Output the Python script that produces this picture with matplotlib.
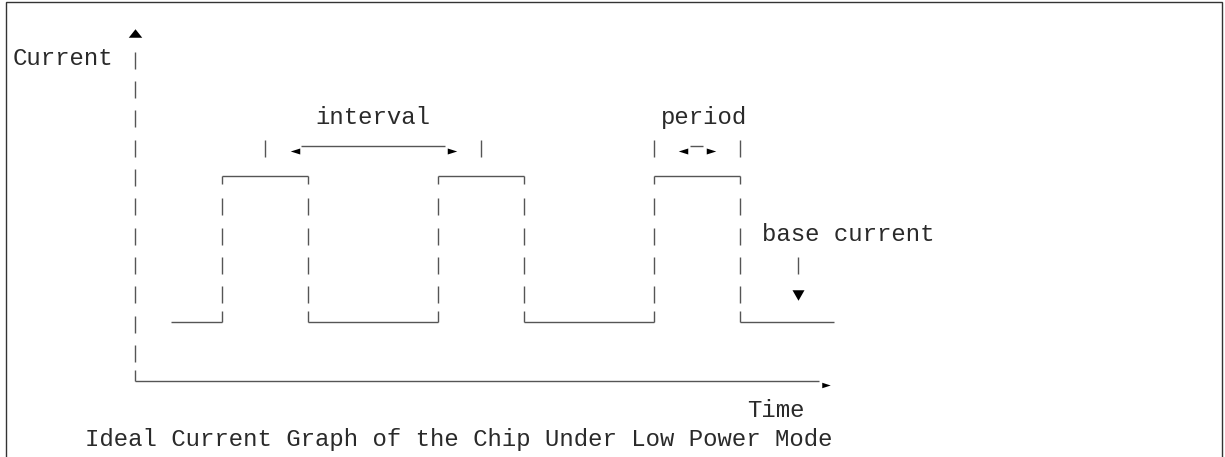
import matplotlib
matplotlib.use("Agg")
import matplotlib.pyplot as plt
from matplotlib.patches import Rectangle

# ---------------- data (character-grid units: columns / text rows) ----------------
pulse_starts = [14, 29, 44]          # rising edges (column)
pulse_ends = [20, 35, 50]            # falling edges (column)
high_row = 5                         # row of the pulse top
low_row = 10                         # row of the base current
baseline_span = [10.5, 56.5]         # base current line extent
axis_col = 8
axis_top_row = 0
axis_bottom_row = 12
time_axis_end_col = 56

interval_marks = [17, 32]
interval_arrow = [19, 30]
period_marks = [44, 50]
period_arrow = [46, 48]
base_pointer_col = 54
base_pointer_rows = [8, 9]

labels = ["Current", "interval", "period", "base current", "Time",
          "Ideal Current Graph of the Chip Under Low Power Mode"]
label_cols = [0, 21, 45, 52, 51, 5]
label_rows = [1, 3, 3, 7, 13, 14]

# ---------------- layout ----------------
W, H = 1225, 457
COL_W, COL0 = 14.4, 20.0     # px per column, px centre of column 0
ROW_H, ROW0 = 29.3, 31.0     # px per row, px centre of row 0
LINE_C = "#555555"
TEXT_C = "#2a2a2a"
LW = 1.0

HL = -2.0 / ROW_H            # horizontal box line offset within a row
BAR = 8.5 / ROW_H            # half height of "|"
CORNER_DN = 6.0 / ROW_H
CORNER_UP = -13.0 / ROW_H
TXT = 5.0 / ROW_H

fig = plt.figure(figsize=(W / 100, H / 100), dpi=100)
ax = fig.add_axes([0, 0, 1, 1])
ax.set_xlim(-COL0 / COL_W, (W - COL0) / COL_W)
ax.set_ylim((H - ROW0) / ROW_H, -ROW0 / ROW_H)
ax.axis("off")

def vbar(c, r):
    ax.plot([c, c], [r - BAR, r + BAR], color=LINE_C, lw=LW, solid_capstyle="butt")

def hline(c0, c1, r):
    ax.plot([c0, c1], [r + HL, r + HL], color=LINE_C, lw=LW, solid_capstyle="butt")

def tri(w, h, d):
    if d == "up":
        return [(-w / 2, -h / 2), (w / 2, -h / 2), (0, h / 2)]
    if d == "down":
        return [(-w / 2, h / 2), (w / 2, h / 2), (0, -h / 2)]
    if d == "left":
        return [(w / 2, h / 2), (w / 2, -h / 2), (-w / 2, 0)]
    return [(-w / 2, h / 2), (-w / 2, -h / 2), (w / 2, 0)]

def head(c, r, w, h, d):
    ax.plot([c], [r], marker=tri(w, h, d), markersize=max(w, h) * 0.72,
            color="black", markeredgewidth=0, linestyle="none")

# ---- vertical axis ----
head(axis_col, axis_top_row + 2.0 / ROW_H, 13.5, 8.5, "up")
for r in range(axis_top_row + 1, axis_bottom_row):
    vbar(axis_col, r)
ax.plot([axis_col, axis_col], [axis_bottom_row + CORNER_UP, axis_bottom_row + HL],
        color=LINE_C, lw=LW, solid_capstyle="butt")
# ---- time axis ----
hline(axis_col, time_axis_end_col - 0.5, axis_bottom_row)
head(time_axis_end_col, axis_bottom_row + 2.0 / ROW_H, 8.5, 5.5, "right")

# ---- signal ----
lows = [baseline_span[0]] + pulse_ends
lows_end = pulse_starts + [baseline_span[1]]
for a, b in zip(lows, lows_end):
    hline(a, b, low_row)
for a, b in zip(pulse_starts, pulse_ends):
    hline(a, b, high_row)
for c in pulse_starts + pulse_ends:
    ax.plot([c, c], [high_row + HL, high_row + CORNER_DN], color=LINE_C, lw=LW,
            solid_capstyle="butt")
    for r in range(high_row + 1, low_row):
        vbar(c, r)
    ax.plot([c, c], [low_row + CORNER_UP, low_row + HL], color=LINE_C, lw=LW,
            solid_capstyle="butt")

# ---- interval / period dimension markers ----
for marks, arr in [(interval_marks, interval_arrow), (period_marks, period_arrow)]:
    for c in marks:
        vbar(c, 4)
    if arr[1] - arr[0] > 2:
        hline(arr[0] + 0.5, arr[1] - 0.5, 4)
    else:
        hline(arr[0] + 0.56, arr[1] - 0.56, 4)
    head(arr[0] + 0.07, 4 + 2.5 / ROW_H, 9.5, 6.0, "left")
    head(arr[1], 4 + 2.5 / ROW_H, 9.5, 6.0, "right")

# ---- base current pointer ----
vbar(base_pointer_col, base_pointer_rows[0])
head(base_pointer_col, base_pointer_rows[1], 12.0, 10.5, "down")

# ---- labels ----
fs = COL_W / 0.6 * 0.72
for s, c, r in zip(labels, label_cols, label_rows):
    ax.text(c - 0.5, r + TXT, s, ha="left", va="baseline", fontsize=fs,
            family="Liberation Mono", color=TEXT_C)

# ---- frame ----
fig.add_artist(Rectangle((6 / W, -0.05), (1222 - 6) / W, 1 - 1.5 / H + 0.05,
                         transform=fig.transFigure, fill=False,
                         edgecolor="#333333", lw=1.0))

fig.savefig("out.png", dpi=100)
